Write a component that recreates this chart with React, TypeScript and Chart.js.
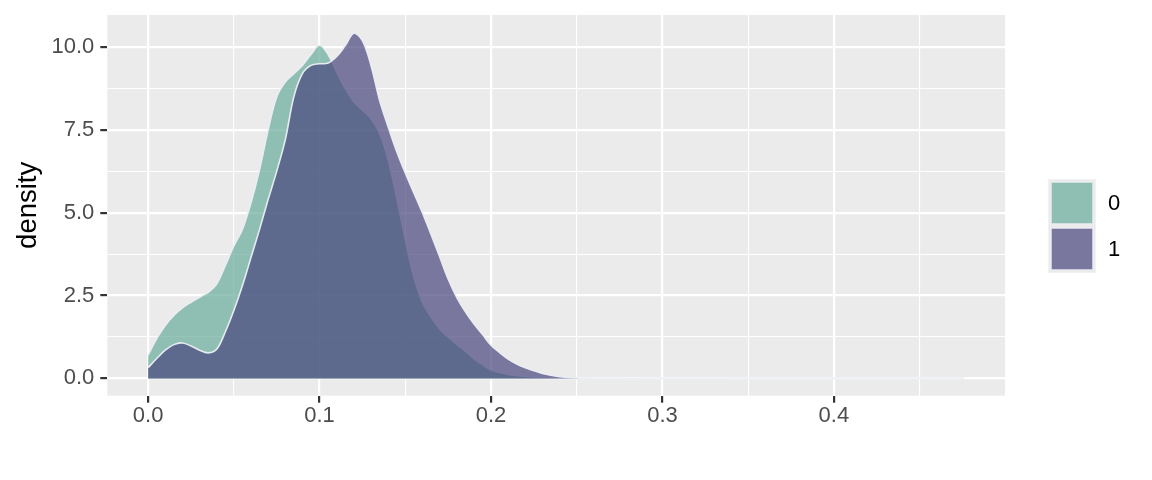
import { useEffect, useRef } from "react";
import { Chart, registerables } from "chart.js";

Chart.register(...registerables);

const groupLabels = ["0", "1"];

const x0 = [0, 0.005, 0.01, 0.015, 0.02, 0.025, 0.03, 0.035, 0.04, 0.045, 0.05, 0.055, 0.06, 0.065, 0.07, 0.075, 0.08, 0.085, 0.09, 0.095, 0.1, 0.105, 0.11, 0.115, 0.12, 0.125, 0.13, 0.135, 0.14, 0.145, 0.15, 0.155, 0.16, 0.165, 0.17, 0.175, 0.18, 0.185, 0.19, 0.195, 0.2, 0.21, 0.22, 0.23, 0.24, 0.25, 0.3, 0.4, 0.476];
const y0 = [0.7, 1.2, 1.6, 1.9, 2.13, 2.3, 2.45, 2.6, 2.85, 3.4, 4.0, 4.5, 5.3, 6.3, 7.5, 8.5, 8.95, 9.2, 9.45, 9.78, 10.06, 9.78, 9.25, 8.75, 8.35, 8.1, 7.85, 7.4, 6.6, 5.45, 4.2, 3.05, 2.3, 1.85, 1.5, 1.25, 1.03, 0.83, 0.6, 0.42, 0.25, 0.12, 0.06, 0.03, 0.01, 0, 0, 0, 0];

const x1 = [0, 0.005, 0.01, 0.015, 0.02, 0.025, 0.03, 0.035, 0.04, 0.045, 0.05, 0.055, 0.06, 0.065, 0.07, 0.075, 0.08, 0.085, 0.09, 0.095, 0.1, 0.105, 0.11, 0.115, 0.12, 0.125, 0.13, 0.135, 0.14, 0.145, 0.15, 0.155, 0.16, 0.165, 0.17, 0.175, 0.18, 0.185, 0.19, 0.195, 0.2, 0.205, 0.21, 0.215, 0.22, 0.23, 0.24, 0.25, 0.26, 0.35, 0.476];
const y1 = [0.32, 0.6, 0.85, 1.02, 1.07, 0.98, 0.85, 0.77, 0.88, 1.4, 2.05, 2.8, 3.65, 4.5, 5.4, 6.25, 7.2, 8.5, 9.2, 9.45, 9.5, 9.52, 9.72, 10.05, 10.42, 10.2, 9.45, 8.4, 7.6, 6.85, 6.2, 5.6, 5.0, 4.35, 3.68, 3.0, 2.45, 2.02, 1.65, 1.33, 1.0, 0.78, 0.58, 0.43, 0.32, 0.15, 0.05, 0.01, 0, 0, 0];

const xMajor = [0, 0.1, 0.2, 0.3, 0.4];
const xMajorLabels = ["0.0", "0.1", "0.2", "0.3", "0.4"];
const xMinor = [0.05, 0.15, 0.25, 0.35, 0.45];
const yMajor = [0, 2.5, 5, 7.5, 10];
const yMajorLabels = ["0.0", "2.5", "5.0", "7.5", "10.0"];
const yMinor = [1.25, 3.75, 6.25, 8.75];

const FONT = "'Liberation Sans', Arial, sans-serif";
const fillColors = ["rgba(104,173,154,0.7)", "rgba(72,70,125,0.7)"];
const OUTLINE = "rgba(236,238,245,0.95)";

function isMajor(list: number[], v: number) {
  return list.some((m) => Math.abs(m - v) < 1e-9);
}

export default function App() {
  const ref = useRef<HTMLCanvasElement | null>(null);
  useEffect(() => {
    document.body.style.margin = "0";
    const canvas = ref.current!;
    const bgPlugin = {
      id: "panelbg",
      beforeDraw(chart: any) {
        const { ctx, chartArea: a } = chart;
        ctx.save();
        ctx.fillStyle = "#EBEBEB";
        ctx.fillRect(a.left, a.top, a.right - a.left, a.bottom - a.top);
        ctx.restore();
      },
      afterDraw(chart: any) {
        const { ctx } = chart;
        ctx.save();
        const kx = 1049, kw = 46, kh = 46;
        const ky = [180, 226];
        ctx.fillStyle = "#F2F2F2";
        ctx.fillRect(kx - 1, ky[0] - 1, kw + 2, kh * 2 + 2);
        groupLabels.forEach((lab, i) => {
          ctx.fillStyle = "#EBEBEB";
          ctx.fillRect(kx, ky[i], kw, kh);
          ctx.fillStyle = fillColors[i];
          ctx.fillRect(kx + 2, ky[i] + 2, kw - 4, kh - 4);
          ctx.strokeStyle = OUTLINE;
          ctx.lineWidth = 1.5;
          ctx.strokeRect(kx + 2, ky[i] + 2, kw - 4, kh - 4);
          ctx.fillStyle = "#000000";
          ctx.font = `22px ${FONT}`;
          ctx.textAlign = "left";
          ctx.textBaseline = "middle";
          ctx.fillText(lab, 1108, ky[i] + kh / 2 + 1);
        });
        ctx.restore();
      },
    };
    const mk = (xs: number[], ys: number[]) => xs.map((x, i) => ({ x, y: ys[i] }));
    const chart = new Chart(canvas, {
      type: "line",
      data: {
        datasets: [
          {
            label: groupLabels[0],
            data: mk(x0, y0),
            backgroundColor: fillColors[0],
            borderColor: OUTLINE,
            borderWidth: 1.6,
            fill: "origin",
            pointRadius: 0,
            tension: 0.35,
            order: 2,
          },
          {
            label: groupLabels[1],
            data: mk(x1, y1),
            backgroundColor: fillColors[1],
            borderColor: OUTLINE,
            borderWidth: 1.6,
            fill: "origin",
            pointRadius: 0,
            tension: 0.35,
            order: 1,
          },
        ],
      },
      options: {
        responsive: false,
        animation: false,
        devicePixelRatio: 1,
        layout: { padding: { left: 12, top: 15, right: 147, bottom: 44.3 } },
        plugins: { legend: { display: false }, tooltip: { enabled: false } },
        scales: {
          x: {
            type: "linear",
            min: -0.0238,
            max: 0.4998,
            afterBuildTicks: (s: any) => {
              s.ticks = [...xMajor, ...xMinor].sort((a, b) => a - b).map((v) => ({ value: v }));
            },
            afterFit: (s: any) => {
              s.height = 40;
              s.paddingLeft = 0;
              s.paddingRight = 0;
            },
            ticks: {
              autoSkip: false,
              maxRotation: 0,
              padding: 0,
              color: "#4D4D4D",
              font: { family: FONT, size: 22 },
              callback: (v: any) => {
                const i = xMajor.findIndex((m) => Math.abs(m - v) < 1e-9);
                return i >= 0 ? xMajorLabels[i] : "";
              },
            },
            grid: {
              color: "#FFFFFF",
              lineWidth: (c: any) => (isMajor(xMajor, c.tick?.value) ? 2.2 : 1.1),
              tickColor: (c: any) => (isMajor(xMajor, c.tick?.value) ? "#333333" : "rgba(0,0,0,0)"),
              tickLength: 7,
              drawTicks: true,
            },
            border: { display: false },
          },
          y: {
            type: "linear",
            min: -0.5225,
            max: 10.9725,
            afterBuildTicks: (s: any) => {
              s.ticks = [...yMajor, ...yMinor].sort((a, b) => a - b).map((v) => ({ value: v }));
            },
            afterFit: (s: any) => {
              s.width = 95.3;
              s.paddingTop = 0;
              s.paddingBottom = 0;
            },
            title: {
              display: true,
              text: "density",
              color: "#000000",
              font: { family: FONT, size: 27.5 },
              padding: 0,
            },
            ticks: {
              autoSkip: false,
              padding: 6,
              color: "#4D4D4D",
              font: { family: FONT, size: 22 },
              callback: (v: any) => {
                const i = yMajor.findIndex((m) => Math.abs(m - v) < 1e-9);
                return i >= 0 ? yMajorLabels[i] : "";
              },
            },
            grid: {
              color: "#FFFFFF",
              lineWidth: (c: any) => (isMajor(yMajor, c.tick?.value) ? 2.2 : 1.1),
              tickColor: (c: any) => (isMajor(yMajor, c.tick?.value) ? "#333333" : "rgba(0,0,0,0)"),
              tickLength: 7,
              drawTicks: true,
            },
            border: { display: false },
          },
        },
      },
      plugins: [bgPlugin],
    } as any);
    return () => chart.destroy();
  }, []);
  return (
    <div style={{ width: 1152, height: 480, background: "#FFFFFF" }}>
      <canvas ref={ref} width={1152} height={480} style={{ display: "block" }} />
    </div>
  );
}
